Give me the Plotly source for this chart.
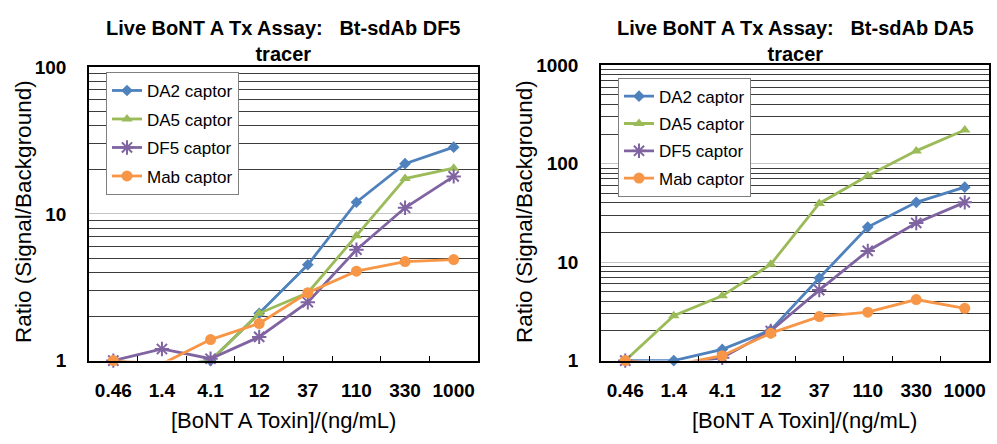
import plotly.graph_objects as go

# Toxin concentrations (ng/mL) on the category axis
concentrations = ["0.46", "1.4", "4.1", "12", "37", "110", "330", "1000"]
captors = ["DA2 captor", "DA5 captor", "DF5 captor", "Mab captor"]

# Signal/background ratios, Bt-sdAb DF5 tracer
df5_da2 = [1.0, 0.9, 1.0, 2.1, 4.5, 12.0, 22.0, 28.5]
df5_da5 = [1.0, 0.9, 1.0, 2.1, 2.9, 7.1, 17.4, 20.5]
df5_df5 = [1.0, 1.2, 1.03, 1.45, 2.5, 5.7, 11.0, 18.0]
df5_mab = [1.0, 0.95, 1.39, 1.79, 2.9, 4.07, 4.73, 4.88]

# Signal/background ratios, Bt-sdAb DA5 tracer
da5_da2 = [1.0, 1.0, 1.3, 2.04, 6.9, 22.7, 40.5, 57.8]
da5_da5 = [1.0, 2.85, 4.55, 9.5, 39.5, 75.5, 135.0, 220.0]
da5_df5 = [1.0, 0.9, 1.07, 2.0, 5.2, 13.0, 25.0, 40.5]
da5_mab = [1.0, 0.9, 1.12, 1.9, 2.8, 3.1, 4.17, 3.4]

panel_titles = ["Live BoNT A Tx Assay:&nbsp;&nbsp; Bt-sdAb DF5<br>tracer",
                "Live BoNT A Tx Assay:&nbsp;&nbsp; Bt-sdAb DA5<br>tracer"]
x_title = "[BoNT A Toxin]/(ng/mL)"
y_title = "Ratio (Signal/Background)"

W, H = 997, 444
FONT = "Liberation Sans, Arial, sans-serif"
colors = ["#4F81BD", "#9BBB59", "#8064A2", "#F79646"]
symbols = ["diamond", "triangle-up", "asterisk-open", "circle"]
sizes = [9, 10, 12, 11]


def px(x):
    return x / W


def py(y):
    return 1 - y / H


# plot-area boxes in pixels: (left, top, right, bottom)
boxes = [(89, 60, 478, 368), (601, 58, 989, 368)]
panels = [
    [df5_da2, df5_da5, df5_df5, df5_mab],
    [da5_da2, da5_da5, da5_df5, da5_mab],
]
y_ranges = [[0, 2], [0, 3]]
# legend anchor (px) and spacing between entries
legend_pos = [(106, 65), (618, 71)]
legend_gap = [3.4, 2.2]

fig = go.Figure()

for p, series in enumerate(panels):
    xa = "x" if p == 0 else "x2"
    ya = "y" if p == 0 else "y2"
    lg = "legend" if p == 0 else "legend2"
    for i, vals in enumerate(series):
        # points below the axis minimum keep their line but show no marker
        mcol = [colors[i] if v >= 1 else "rgba(0,0,0,0)" for v in vals]
        fig.add_trace(go.Scatter(
            x=concentrations, y=vals, name=captors[i],
            mode="lines+markers", xaxis=xa, yaxis=ya, legend=lg,
            legendgroup=f"{p}-{i}", cliponaxis=False,
            line=dict(color=colors[i], width=2.8),
            marker=dict(symbol=symbols[i], size=sizes[i], color=mcol,
                        line=dict(width=2 if symbols[i] == "asterisk-open" else 0,
                                  color=mcol)),
        ))

layout = dict(
    width=W, height=H,
    margin=dict(l=0, r=0, t=0, b=0),
    paper_bgcolor="white", plot_bgcolor="white",
    font=dict(family=FONT, color="black"),
    showlegend=True,
    annotations=[],
)

for p, (l, t, r, b) in enumerate(boxes):
    sfx = "" if p == 0 else "2"
    layout["xaxis" + sfx] = dict(
        domain=[px(l), px(r)], anchor="y" + sfx, type="category",
        categoryorder="array", categoryarray=concentrations,
        range=[-0.5, 7.5], tickson="boundaries", ticks="inside", ticklen=5,
        tickcolor="black", tickwidth=1.2, showline=True, mirror=True,
        linecolor="black", linewidth=1.5, showgrid=False, tickangle=0,
        tickfont=dict(family=FONT, size=19, color="black", weight="bold"),
        ticklabelstandoff=12, fixedrange=True,
    )
    layout["yaxis" + sfx] = dict(
        domain=[py(b), py(t)], anchor="x" + sfx, type="log",
        range=y_ranges[p], tickvals=[1, 10, 100, 1000],
        ticktext=["1", "10", "100", "1000"], ticks="",
        showgrid=True, gridcolor="#c4c4c4", gridwidth=1,
        minor=dict(dtick="D1", showgrid=True, gridcolor="#3c3c3c", gridwidth=1.3, ticks=""),
        showline=True, mirror=True, linecolor="black", linewidth=1.5,
        tickfont=dict(family=FONT, size=19, color="black", weight="bold"),
        ticklabelstandoff=17, fixedrange=True, zeroline=False,
    )
    lx, ly = legend_pos[p]
    layout["legend" if p == 0 else "legend2"] = dict(
        x=px(lx), y=py(ly), xanchor="left", yanchor="top",
        bgcolor="white", bordercolor="#7f7f7f", borderwidth=1,
        font=dict(family=FONT, size=17, color="black"),
        itemwidth=30, traceorder="grouped", tracegroupgap=legend_gap[p],
        entrywidth=100, entrywidthmode="pixels",
    )
    cx = (l + r) / 2
    layout["annotations"] += [
        dict(text=panel_titles[p], xref="paper", yref="paper", x=px(cx), y=py(33),
             xanchor="center", yanchor="middle", showarrow=False,
             font=dict(family=FONT, size=20, color="black", weight="bold")),
        dict(text=x_title, xref="paper", yref="paper", x=px(cx + (0 if p == 0 else 9)), y=py(431),
             xanchor="center", yanchor="middle", showarrow=False,
             font=dict(family=FONT, size=22, color="black")),
        dict(text=y_title, xref="paper", yref="paper", x=px(24 if p == 0 else 525), y=py(212),
             xanchor="center", yanchor="middle", showarrow=False, textangle=-90,
             font=dict(family=FONT, size=22.5, color="black")),
    ]

fig.update_layout(**layout)
fig.write_html("out.html")
